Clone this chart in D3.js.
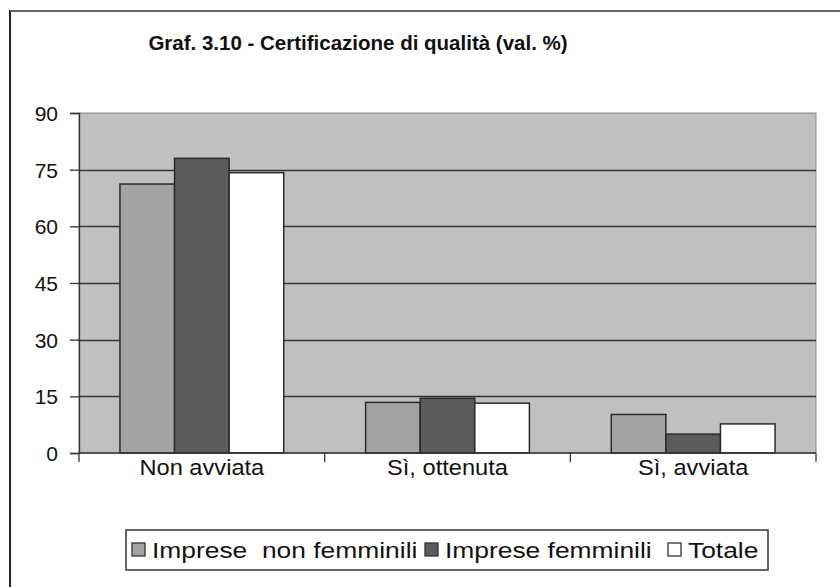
<!DOCTYPE html>
<html>
<head>
<meta charset="utf-8">
<script src="https://cdn.jsdelivr.net/npm/d3@7"></script>
<style>
  html, body { margin: 0; padding: 0; background: #fff; }
  svg { display: block; }
  text { font-family: "Liberation Sans", Arial, sans-serif; fill: #111; }
</style>
</head>
<body>
<svg id="chart" width="840" height="587"></svg>
<script>
const categories = ["Non avviata", "Sì, ottenuta", "Sì, avviata"];
const seriesNames = ["Imprese  non femminili", "Imprese femminili", "Totale"];
const seriesNonFemminili = [71.2, 13.4, 10.2];
const seriesFemminili = [78.0, 14.5, 5.0];
const seriesTotale = [74.2, 13.2, 7.7];
const yTicks = [0, 15, 30, 45, 60, 75, 90];
const titleText = "Graf. 3.10 - Certificazione di qualità (val. %)";

const seriesValues = [seriesNonFemminili, seriesFemminili, seriesTotale];
const seriesColors = ["#a3a3a3", "#5b5b5b", "#ffffff"];

const svg = d3.select("#chart");
const plot = { left: 79, right: 816, top: 113, bottom: 453 };

// outer frame (left and top edges visible)
svg.append("line").attr("x1", 10).attr("x2", 10).attr("y1", 10).attr("y2", 587)
  .attr("stroke", "#222").attr("stroke-width", 2);
svg.append("line").attr("x1", 10).attr("x2", 840).attr("y1", 11).attr("y2", 11)
  .attr("stroke", "#666").attr("stroke-width", 2);

// title
svg.append("text").attr("x", 358).attr("y", 50).attr("text-anchor", "middle")
  .attr("font-size", 20.5).attr("font-weight", "bold").text(titleText);

const x0 = d3.scaleBand().domain(categories).range([plot.left, plot.right]).padding(0);
const x1 = d3.scaleBand().domain(d3.range(3)).range([0, x0.bandwidth()])
  .paddingInner(0).paddingOuter(0.75);
const y = d3.scaleLinear().domain([0, 90]).range([plot.bottom, plot.top]);

// plot background
svg.append("rect").attr("x", plot.left).attr("y", plot.top)
  .attr("width", plot.right - plot.left).attr("height", plot.bottom - plot.top)
  .attr("fill", "#c0c0c0").attr("stroke", "#8a8a8a").attr("stroke-width", 1);

// gridlines
svg.append("g").selectAll("line").data(yTicks.filter(t => t > 0 && t < 90)).join("line")
  .attr("x1", plot.left).attr("x2", plot.right)
  .attr("y1", d => Math.round(y(d)) + 0.5).attr("y2", d => Math.round(y(d)) + 0.5)
  .attr("stroke", "#333").attr("stroke-width", 1.3);

// bars
const groups = svg.append("g").selectAll("g").data(categories).join("g")
  .attr("transform", d => `translate(${x0(d)},0)`);
groups.selectAll("rect").data((c, ci) => seriesValues.map((s, si) => ({ si, v: s[ci] })))
  .join("rect")
  .attr("x", d => x1(d.si)).attr("width", x1.bandwidth())
  .attr("y", d => y(d.v)).attr("height", d => y(0) - y(d.v))
  .attr("fill", d => seriesColors[d.si]).attr("stroke", "#2a2a2a").attr("stroke-width", 1.5);

// y axis
const yAxis = d3.axisLeft(y).tickValues(yTicks).tickSize(9).tickPadding(12).tickFormat(d3.format("d"));
const ga = svg.append("g").attr("transform", `translate(${plot.left},0)`).call(yAxis);
ga.select(".domain").attr("stroke", "#333").attr("stroke-width", 1.3);
ga.selectAll(".tick line").attr("stroke", "#333").attr("stroke-width", 1.3);
ga.selectAll(".tick text").attr("font-size", 21).attr("font-family", "Liberation Sans, Arial, sans-serif")
  .attr("fill", "#111").attr("dy", "0.35em");

// x axis
svg.append("line").attr("x1", plot.left).attr("x2", plot.right)
  .attr("y1", plot.bottom).attr("y2", plot.bottom).attr("stroke", "#333").attr("stroke-width", 1.3);
const bounds = categories.map(c => x0(c)).concat([plot.right]);
svg.append("g").selectAll("line").data(bounds).join("line")
  .attr("x1", d => d).attr("x2", d => d).attr("y1", plot.bottom).attr("y2", plot.bottom + 9)
  .attr("stroke", "#333").attr("stroke-width", 1.3);
svg.append("g").selectAll("text").data(categories).join("text")
  .attr("transform", d => `translate(${x0(d) + x0.bandwidth() / 2},475) scale(1.1,1)`)
  .attr("text-anchor", "middle").attr("font-size", 21.5).text(d => d);

// legend
const lg = { left: 126, right: 768, top: 530, bottom: 570 };
svg.append("rect").attr("x", lg.left).attr("y", lg.top)
  .attr("width", lg.right - lg.left).attr("height", lg.bottom - lg.top)
  .attr("fill", "#fff").attr("stroke", "#333").attr("stroke-width", 1.5);
const legendX = [132, 425, 668];
const items = svg.append("g").selectAll("g").data(seriesNames).join("g")
  .attr("transform", (d, i) => `translate(${legendX[i]},0)`);
items.append("rect").attr("x", 0).attr("y", 543).attr("width", 13).attr("height", 13)
  .attr("fill", (d, i) => seriesColors[i]).attr("stroke", "#333").attr("stroke-width", 1.3);
items.append("text").attr("transform", "translate(20,558) scale(1.2,1)").attr("font-size", 22)
  .attr("xml:space", "preserve").style("white-space", "pre").text(d => d);
</script>
</body>
</html>
